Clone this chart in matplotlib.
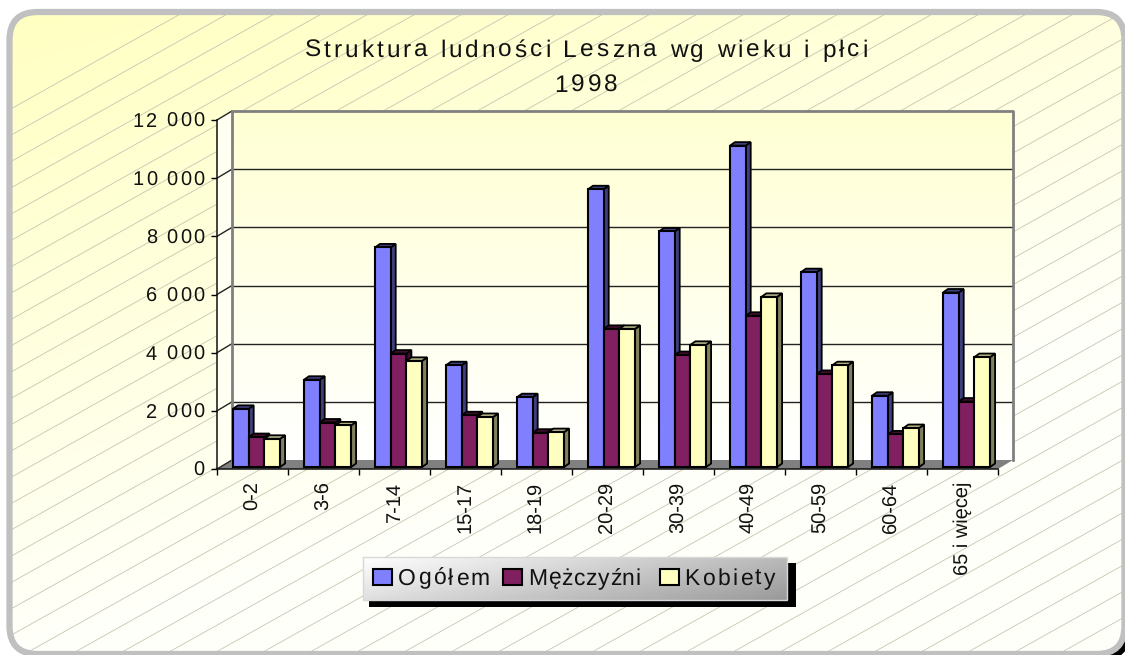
import numpy as np
import matplotlib
matplotlib.use('Agg')
import matplotlib.pyplot as plt
from matplotlib.patches import FancyBboxPatch, Polygon, Rectangle
from matplotlib.text import Text
from matplotlib.transforms import IdentityTransform

categories = ['0-2', '3-6', '7-14', '15-17', '18-19', '20-29', '30-39', '40-49', '50-59', '60-64', '65 i więcej']
ogolem = [2000, 3000, 7550, 3500, 2400, 9550, 8100, 11050, 6700, 2450, 6000]
mezczyzni = [1030, 1530, 3900, 1780, 1180, 4750, 3850, 5200, 3200, 1120, 2250]
kobiety = [970, 1430, 3650, 1720, 1200, 4750, 4200, 5850, 3500, 1340, 3780]
y_ticks = [0, 2000, 4000, 6000, 8000, 10000, 12000]
y_labels = ['0', '2 000', '4 000', '6 000', '8 000', '10 000', '12 000']
series_names = ['Ogółem', 'Mężczyźni', 'Kobiety']
title_1 = 'Struktura ludności Leszna wg wieku i płci'
title_2 = '1998'

face_colors = ['#8080ff', '#802060', '#ffffc0']
side_colors = ['#40407f', '#401030', '#80805f']
top_colors = ['#40407f', '#401030', '#b4b486']
legend_tracking = [2.4, 0.7, 2.4]
INK = '#111111'


class TrackedText(Text):
    """Text drawn with extra space between letters, keeps one string."""
    tracking = 0

    def draw(self, renderer):
        s = self.get_text()
        if not self.get_visible() or not s:
            return
        posx, posy = self.get_transform().transform(self.get_unitless_position())
        _, info, _ = self._get_layout(renderer)
        _, _, x, y = info[0]
        frac = {'left': 0, 'center': 0.5, 'right': 1}[self.get_ha()]
        x0 = posx + x - frac * self.tracking * (len(s) - 1)
        y0 = posy + y
        fp = self.get_fontproperties()
        for i, ch in enumerate(s):
            w = renderer.get_text_width_height_descent(s[:i], fp, False)[0] if i else 0
            t = Text(x0 + w + i * self.tracking, y0, ch, fontproperties=fp, color=self.get_color(),
                     ha='left', va='baseline', transform=IdentityTransform())
            t.set_figure(self.get_figure())
            t.draw(renderer)


def track(text, amount):
    text.__class__ = TrackedText
    text.tracking = amount


W, H = 1125, 655
plt.rcParams['font.family'] = ['Liberation Sans', 'DejaVu Sans']
plt.rcParams['text.hinting'] = 'no_hinting'
fig = plt.figure(figsize=(W / 100, H / 100), dpi=100, facecolor='white')

# page background, in pixel coordinates
bg = fig.add_axes([0, 0, 1, 1], zorder=0)
bg.axis('off')

round_box = dict(boxstyle='round,pad=0,rounding_size=28')
box_xy = (9.5, 12)
box_wh = (1115, 642)
bg.add_patch(FancyBboxPatch((box_xy[0] + 6, box_xy[1] + 6), box_wh[0], box_wh[1], fc='black', ec='none',
                            zorder=0.5, **round_box))
bg.add_patch(FancyBboxPatch(box_xy, box_wh[0], box_wh[1], fc='none', ec='#c0c0c0', lw=4.5, zorder=5, **round_box))

xx, yy = np.meshgrid(np.linspace(0, 1, 200), np.linspace(0, 1, 200))
t = np.clip(0.5 * xx + yy, 0, 1)[..., None]
grad = np.array([1.0, 1.0, 0.753]) * (1 - t) + np.array([1.0, 1.0, 0.98]) * t
img = bg.imshow(grad, extent=(0, W, H, 0), aspect='auto', zorder=1)
clip_box = FancyBboxPatch(box_xy, box_wh[0], box_wh[1], fc='none', ec='none', transform=bg.transData, **round_box)
bg.add_patch(clip_box)
img.set_clip_path(clip_box)

# thin diagonal lines across the page
for x0 in np.arange(-1500, W + 200, 47):
    ln, = bg.plot([x0, x0 + 3000], [H + 300, H + 300 - 3000 * 0.56], color='#c6c6b2', lw=0.6, zorder=2)
    ln.set_clip_path(clip_box)

# legend plate
leg_x, leg_y, leg_w, leg_h = 363, 557, 424, 43
bg.add_patch(Rectangle((leg_x + 6, leg_y + 6), leg_w + 3, leg_h + 1, fc='black', ec='none', zorder=3))
px_x, px_y = np.meshgrid(np.linspace(0, 1, 100), np.linspace(0, 1, 40))
plate = (1.0 - 0.36 * (0.75 * px_x + 0.35 * px_y))[..., None].repeat(3, axis=2)
plate = np.clip(plate, 0, 1)
bg.imshow(plate, extent=(leg_x, leg_x + leg_w, leg_y + leg_h, leg_y), aspect='auto', zorder=4)
bg.add_patch(Rectangle((leg_x, leg_y), leg_w, leg_h, fc='none', ec='#d8d8d8', lw=1, zorder=4))
bg.set_xlim(0, W)
bg.set_ylim(H, 0)

for txt, base_y in [(title_1, 57), (title_2, 92)]:
    tt = bg.text(586, base_y, txt, ha='center', va='baseline', fontsize=17.6, color=INK, zorder=6)
    track(tt, 3.0)

# main chart, front plane of the fake 3d box
left, right, top, bottom = 217, 998, 120, 469
ax = fig.add_axes([left / W, 1 - bottom / H, (right - left) / W, (bottom - top) / H], zorder=1)
ax.patch.set_visible(False)
px = len(categories) / (right - left)
py = 12000 / (bottom - top)
dx, dy = 15 * px, 9 * py
x_max, y_max = len(categories), 12000

# back wall with vertical gradient
wall = np.linspace(0, 1, 100)[:, None, None] * np.array([0, 0, 0.17]) + np.array([1.0, 1.0, 0.83])
ax.imshow(wall, extent=(dx, x_max + dx, dy, y_max + dy), aspect='auto', origin='upper', zorder=1, clip_on=False)
ax.set_xlim(0, x_max)
ax.set_ylim(0, y_max)
ax.add_patch(Polygon([(0, 0), (dx, dy), (dx, y_max + dy), (0, y_max)], fc='#fffff2', ec='none',
                     zorder=1, clip_on=False))
ax.add_patch(Polygon([(0, 0), (x_max, 0), (x_max + dx, dy), (dx, dy)], fc='#808080', ec='none',
                     zorder=1.5, clip_on=False))
for v in y_ticks[1:-1]:
    ax.plot([dx, x_max + dx], [v + dy, v + dy], color='#222222', lw=1.0, zorder=2, clip_on=False)
for v in y_ticks:
    ax.plot([0, dx], [v, v + dy], color='#222222', lw=1.0, zorder=2, clip_on=False)
ax.plot([dx, dx, x_max + dx, x_max + dx], [dy, y_max + dy, y_max + dy, dy], color='#808080', lw=2,
        zorder=2, clip_on=False)

# bars with small side and top faces
bar_w = 15.7 * px
start = 16 * px
base = 2 * py
bar_dx, bar_dy = 5 * px, 3.5 * py
handles = []
for c, (vals, fc, sc, tc) in enumerate(zip([ogolem, mezczyzni, kobiety], face_colors, side_colors, top_colors)):
    xs = np.arange(len(categories)) + start + c * bar_w + bar_w / 2
    z = 3 + 0.01 * c
    bars = ax.bar(xs, vals, bar_w, bottom=base, color=fc, edgecolor='black', lw=1.5, zorder=z + 0.002,
                  label=series_names[c])
    handles.append(bars)
    for x0, v in zip(xs - bar_w / 2, vals):
        x1 = x0 + bar_w
        y1 = base + v
        ax.add_patch(Polygon([(x1, base), (x1 + bar_dx, base + bar_dy), (x1 + bar_dx, y1 + bar_dy), (x1, y1)],
                             fc=sc, ec='black', lw=1.3, zorder=z, clip_on=False))
        ax.add_patch(Polygon([(x0, y1), (x0 + bar_dx, y1 + bar_dy), (x1 + bar_dx, y1 + bar_dy), (x1, y1)],
                             fc=tc, ec='black', lw=1.3, zorder=z + 0.001, clip_on=False))

for s in ['top', 'right']:
    ax.spines[s].set_visible(False)
for s in ['left', 'bottom']:
    ax.spines[s].set_color(INK)
    ax.spines[s].set_linewidth(1.1)
    ax.spines[s].set_zorder(6)

ax.set_yticks(y_ticks, y_labels, fontsize=14.4, color=INK)
ax.tick_params(axis='y', length=4.3, width=1, pad=5)
for lab in ax.get_yticklabels():
    track(lab, 2.0)
ax.set_xticks(np.arange(len(categories) + 1), [''] * (len(categories) + 1))
ax.tick_params(axis='x', which='major', length=4.3, width=1)
ax.set_xticks(np.arange(len(categories)) + 0.5, categories, minor=True, rotation=90,
              fontsize=14.4, color=INK)
ax.tick_params(axis='x', which='minor', length=0, pad=9)

leg = ax.legend(handles=handles, loc='center', bbox_to_anchor=((567 - left) / (right - left),
                (bottom - leg_y - leg_h / 2) / (bottom - top)), ncol=3, frameon=False, fontsize=16.5,
                handlelength=0.83, handleheight=0.7, handletextpad=0.25, columnspacing=1.1)
for t_, amount in zip(leg.get_texts(), legend_tracking):
    t_.set_color(INK)
    track(t_, amount)

fig.savefig('out.png', dpi=100)
